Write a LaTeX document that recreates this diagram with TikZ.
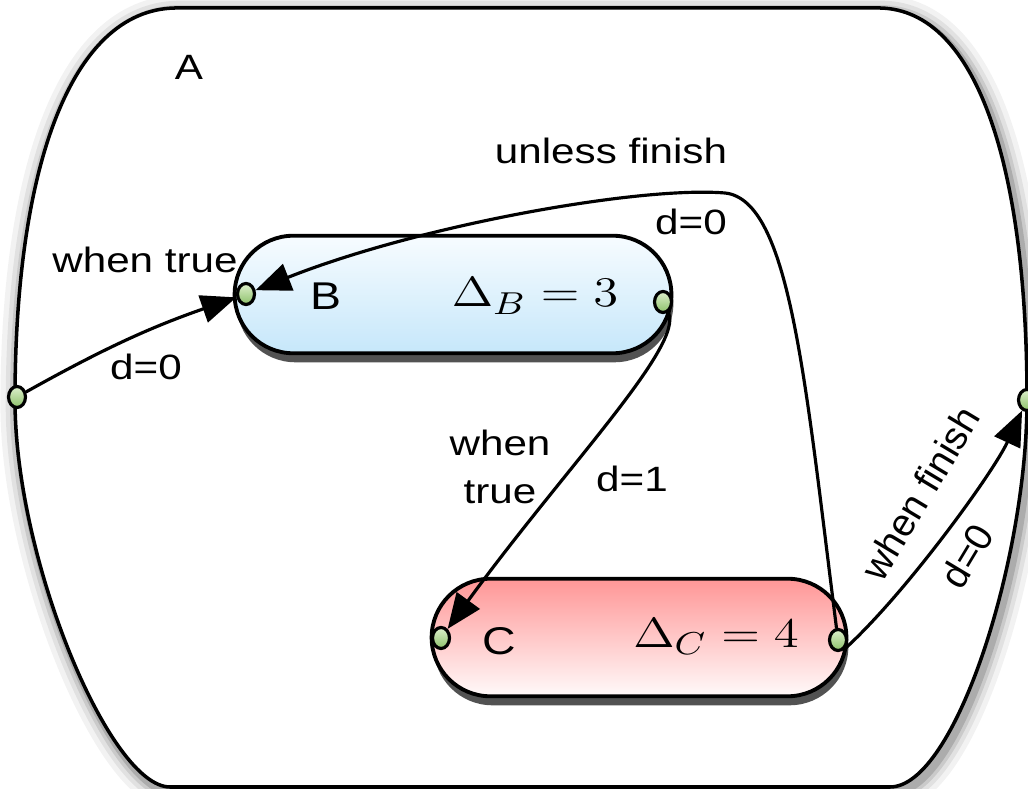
\documentclass[tikz,border=0pt]{standalone}
\usepackage[no-math]{fontspec}
\setmainfont{Liberation Sans}
\usepackage{amsmath}
\usetikzlibrary{arrows.meta,shapes.misc,shapes.geometric,shadows}

\definecolor{portlight}{RGB}{222,240,205}
\definecolor{portdark}{RGB}{140,192,105}
\definecolor{blueTop}{RGB}{247,252,255}
\definecolor{blueBot}{RGB}{198,231,250}
\definecolor{redTop}{RGB}{255,150,150}
\definecolor{redBot}{RGB}{255,250,250}

% outline of the outer state A
\newcommand{\outlineA}{(15,400) .. controls (15,170) and (70,10) .. (175,8) -- (880,8)
  .. controls (978,10) and (1027,170) .. (1027,400)
  .. controls (1027,560) and (955,787) .. (890,787) -- (170,787)
  .. controls (110,787) and (15,560) .. (15,400) -- cycle}

\begin{document}
\begin{tikzpicture}[
			x=0.01cm, y=-0.01cm,
			line cap=round,
			line join=round,
			lbl/.style={font=\fontsize{10}{13.7}\selectfont, xscale=1.2, inner sep=1pt},
			rlbl/.style={font=\fontsize{11}{13}\selectfont, rotate=59, inner sep=0pt},
			port/.style={ellipse, draw, line width=0.9pt, minimum width=0.17cm,
				minimum height=0.21cm, inner sep=0pt, top color=portlight, bottom color=portdark},
			state/.style={rounded rectangle, draw, line width=1.1pt, minimum height=1.175cm,
				inner sep=0pt, drop shadow={shadow xshift=0.02cm, shadow yshift=-0.09cm,
				fill=black!75, opacity=0.9}},
			trans/.style={line width=0.9pt, -{Triangle[length=10pt, width=8pt]}}
			]
			\useasboundingbox (0,0) rectangle (1028,789);
			
			% Outer state A with soft shadow
			\foreach \w/\o in {10/0.05, 7/0.07, 4.5/0.1, 2.5/0.15}
				\draw[shift={(3,5)}, line width=\w pt, black, opacity=\o] \outlineA;
			\draw[line width=1pt, fill=white] \outlineA;
			\node[lbl] (labA) at (189,67) {A};
			
			% Inner states
			\node[state, minimum width=4.365cm, top color=blueTop, bottom color=blueBot]
				(B) at (453,294.5) {};
			\node[state, minimum width=4.145cm, top color=redTop, bottom color=redBot]
				(C) at (639,637.5) {};
			
			\node[lbl, font=\fontsize{11}{13}\selectfont] (labB) at (326,296) {B};
			\node[xscale=1.2, font=\fontsize{12.5}{15}\selectfont, anchor=base]
				(deltaB) at (535,307) {$\Delta_B = 3$};
			\node[lbl, font=\fontsize{11}{13}\selectfont] (labC) at (499,641) {C};
			\node[xscale=1.2, font=\fontsize{12.5}{15}\selectfont, anchor=base]
				(deltaC) at (716,647) {$\Delta_C = 4$};
			
			% Ports
			\node[port] (Al) at (17,397) {};
			\node[port] (Ar) at (1027,400) {};
			\node[port] (Bl) at (246,294) {};
			\node[port] (Br) at (663,302) {};
			\node[port] (Cl) at (441,638) {};
			\node[port] (Cr) at (838,640) {};
			
			% Transitions
			\draw[trans] (Al) to[bend left=5] (Bl);
			\draw[trans] (Cr) .. controls (805,380) and (790,200) .. (725,193)
				.. controls (640,186) and (420,225) .. (Bl);
			\draw[trans] (Br) .. controls (685,345) and (564,469) .. (Cl);
			\draw[trans] (Cr.south east) .. controls (906,593) and (993,473) .. (Ar);
			
			% Transition labels
			\node[lbl] (t1) at (145,260) {when true};
			\node[lbl] (d1) at (146,367) {d=0};
			\node[lbl] (t2) at (611,151) {unless finish};
			\node[lbl] (d2) at (691,222) {d=0};
			\node[lbl, align=center] (t3) at (500,467) {when\\true};
			\node[lbl] (d3) at (632,479) {d=1};
			\node[rlbl] (t4) at (920,493) {when finish};
			\node[rlbl] (d4) at (967,556) {d=0};
		\end{tikzpicture}
\end{document}
